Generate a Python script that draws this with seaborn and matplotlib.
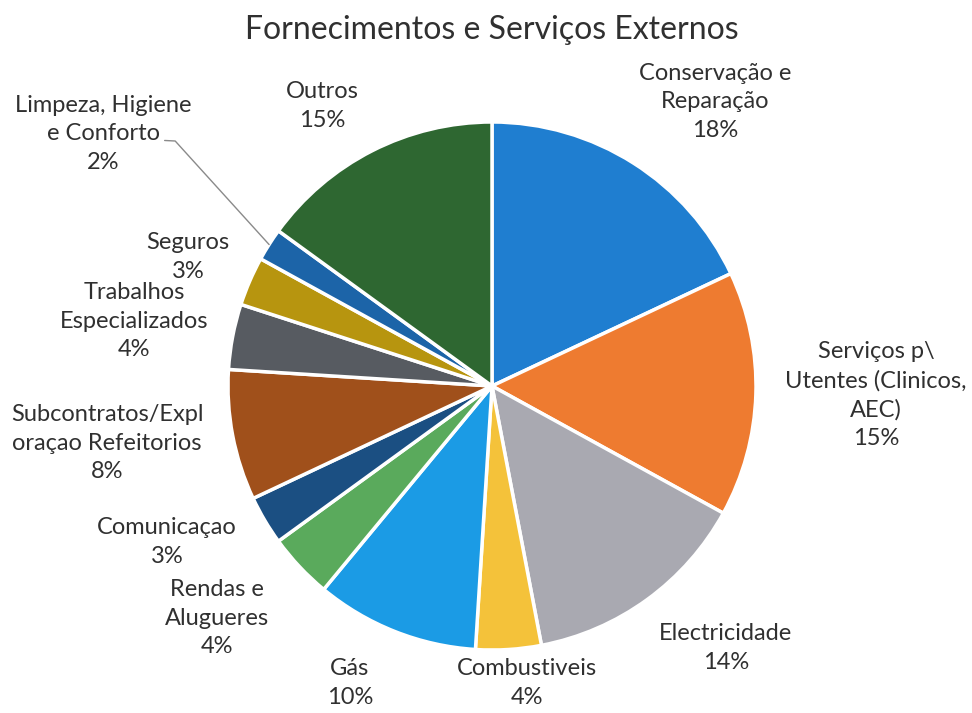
import numpy as np
import matplotlib
matplotlib.use("Agg")
import matplotlib.pyplot as plt
import seaborn as sns

# ---- data ----
categories = [
    "Conservação e\nReparação",
    "Serviços p\\\nUtentes (Clinicos,\nAEC)",
    "Electricidade",
    "Combustiveis",
    "Gás",
    "Rendas e\nAlugueres",
    "Comunicaçao",
    "Subcontratos/Expl\noraçao Refeitorios",
    "Trabalhos\nEspecializados",
    "Seguros",
    "Limpeza, Higiene\ne Conforto",
    "Outros",
]
values = [18, 15, 14, 4, 10, 4, 3, 8, 4, 3, 2, 15]
colors = [
    "#1F7ED0", "#EE7B30", "#A9A9B1", "#F4C23A", "#1B9BE5", "#5AAA5C",
    "#1B4F82", "#A0501B", "#575B61", "#B7950F", "#1C64A8", "#2E6731",
]
title = "Fornecimentos e Serviços Externos"

# ---- layout (label centres in pie-radius units) ----
label_pos = [
    (0.845, 1.076), (1.455, -0.034), (0.886, -0.992), (0.133, -1.125),
    (-0.538, -1.125), (-1.042, -0.879), (-1.231, -0.591), (-1.458, -0.216),
    (-1.356, 0.246), (-1.152, 0.489), (-1.473, 0.955), (-0.644, 1.061),
]

sns.set_theme(style="white")
plt.rcParams["font.family"] = ["Lato", "DejaVu Sans"]

W, H = 972, 713
fig = plt.figure(figsize=(W / 100, H / 100), dpi=100)
cx, cy, r = 492, 386, 264
ax = fig.add_axes([(cx - r) / W, (H - cy - r) / H, 2 * r / W, 2 * r / H])

wedges, _ = ax.pie(
    values, colors=colors, startangle=90, counterclock=False,
    wedgeprops=dict(edgecolor="white", linewidth=2.5),
)
ax.set_xlim(-1, 1)
ax.set_ylim(-1, 1)
ax.set_aspect("equal")
ax.axis("off")

total = sum(values)
for i, (lab, v) in enumerate(zip(categories, values)):
    x, y = label_pos[i]
    txt = f"{lab}\n{round(100 * v / total)}%"
    ax.text(x, y, txt, ha="center", va="center", fontsize=17,
            color="#303030", linespacing=1.45, clip_on=False)

# leader line for the small "Limpeza" slice
w = wedges[10]
ang = np.deg2rad((w.theta1 + w.theta2) / 2)
ex, ey = np.cos(ang), np.sin(ang)
ax.plot([-1.24, -1.20, ex], [0.93, 0.928, ey], color="#8a8a8a",
        linewidth=1.0, clip_on=False)

fig.text(cx / W, 1 - 30 / H, title, ha="center", va="center",
         fontsize=23, color="#303030")

fig.savefig("out.png", dpi=100, facecolor="white")
